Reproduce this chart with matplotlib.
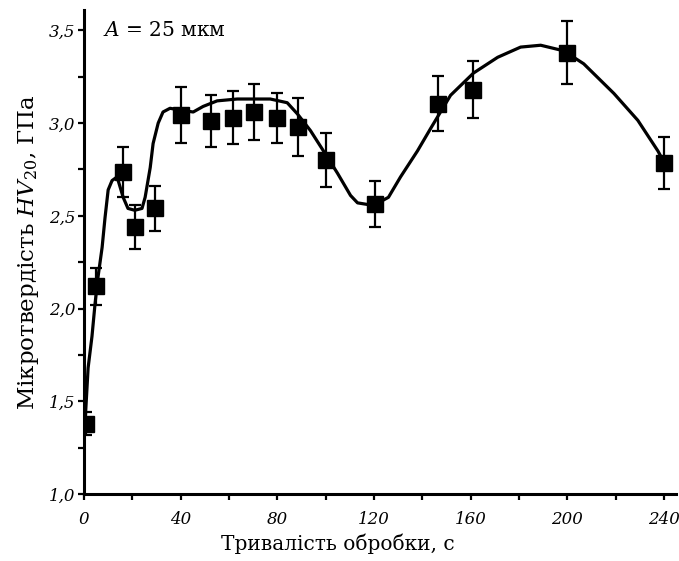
import matplotlib
matplotlib.use("Agg")
import matplotlib.pyplot as plt
from matplotlib.ticker import MultipleLocator, FuncFormatter

# measured points
t_pts = [1.0, 5.0, 16.2, 21.0, 29.4, 40.0, 52.6, 61.8, 70.5, 80.0, 88.7, 100.3, 120.6, 146.7, 160.8, 200.0, 240.0]
hv_pts = [1.38, 2.12, 2.735, 2.44, 2.54, 3.045, 3.01, 3.03, 3.06, 3.03, 2.98, 2.80, 2.565, 3.105, 3.18, 3.38, 2.785]
hv_err = [0.06, 0.10, 0.135, 0.12, 0.12, 0.15, 0.14, 0.145, 0.15, 0.135, 0.155, 0.145, 0.125, 0.15, 0.155, 0.17, 0.14]

# fitted curve
t_curve = [0.5, 1.7, 3.3, 4.6, 5.8, 7.5, 8.7, 10.0, 11.6, 13.7, 16.2, 18.2, 21.0, 24.0, 25.3,
           27.4, 28.6, 30.7, 32.7, 35.6, 39.8, 45.2, 49.3, 55.1, 63.4, 77.1, 84.1, 88.3, 93.7,
           99.1, 104.9, 110.3, 113.2, 119.8, 126.0, 131.0, 138.0, 143.4, 151.7, 161.2, 171.2,
           180.7, 189.0, 198.5, 206.8, 219.3, 229.2, 237.5, 240.0]
hv_curve = [1.40, 1.68, 1.85, 2.03, 2.17, 2.33, 2.49, 2.64, 2.69, 2.71, 2.60, 2.54, 2.53, 2.54, 2.60,
            2.76, 2.89, 3.00, 3.06, 3.08, 3.07, 3.06, 3.09, 3.12, 3.13, 3.13, 3.11, 3.05, 2.96,
            2.85, 2.73, 2.61, 2.57, 2.556, 2.60, 2.71, 2.85, 2.97, 3.15, 3.27, 3.355,
            3.41, 3.42, 3.39, 3.32, 3.16, 3.015, 2.85, 2.79]

plt.rcParams['mathtext.fontset'] = 'dejavuserif'
plt.rcParams['font.family'] = 'DejaVu Serif'

fig = plt.figure(figsize=(6.79, 5.61), dpi=100)
ax = fig.add_axes([84/679, 1-494/561, (676-84)/679, (494-10)/561])

ax.plot(t_curve, hv_curve, color='black', lw=2.3, zorder=2, solid_joinstyle='round')
ax.errorbar(t_pts, hv_pts, yerr=hv_err, fmt='s', color='black', ms=12, ecolor='black',
            elinewidth=1.6, capsize=4, capthick=1.6, zorder=3)

ax.set_xlim(0, 245)
ax.set_ylim(1.0, 3.61)
ax.xaxis.set_major_locator(MultipleLocator(40))
ax.xaxis.set_minor_locator(MultipleLocator(20))
ax.yaxis.set_major_locator(MultipleLocator(0.5))
ax.yaxis.set_minor_locator(MultipleLocator(0.25))
ax.yaxis.set_major_formatter(FuncFormatter(lambda v, p: f"{v:.1f}".replace('.', ',')))
ax.xaxis.set_major_formatter(FuncFormatter(lambda v, p: f"{v:.0f}"))

for s in ['top', 'right']:
    ax.spines[s].set_visible(False)
for s in ['left', 'bottom']:
    ax.spines[s].set_linewidth(2.2)

ax.tick_params(which='both', direction='out', length=4, width=1.6)
for lab in ax.get_xticklabels() + ax.get_yticklabels():
    lab.set_fontstyle('italic')
    lab.set_fontsize(12)
ax.tick_params(axis='x', pad=8)
ax.tick_params(axis='y', pad=2)

ax.set_xlabel("Тривалість обробки, с", fontsize=14.5)
ax.xaxis.set_label_coords((338-84)/592, -(533-494)/484)
ax.set_ylabel("Мікротвердість $HV_{20}$, ГПа", fontsize=16.5)
ax.yaxis.set_label_coords(-(84-41)/592, 0.5)

ax.text(0.032, 0.957, "$A$ = 25 мкм", transform=ax.transAxes, fontsize=14.5, va='center', ha='left')

fig.savefig("out.png", dpi=100)
